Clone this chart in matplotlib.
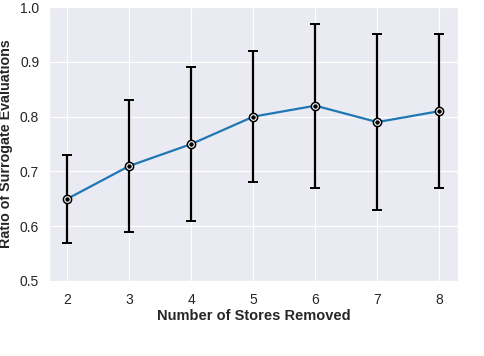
import numpy as np
import matplotlib
matplotlib.use("Agg")
import matplotlib.pyplot as plt
import seaborn as sns

# data
stores_removed = [2, 3, 4, 5, 6, 7, 8]
ratio_mean = [0.65, 0.71, 0.75, 0.80, 0.82, 0.79, 0.81]
ratio_low = [0.57, 0.59, 0.61, 0.68, 0.67, 0.63, 0.67]
ratio_high = [0.73, 0.83, 0.89, 0.92, 0.97, 0.95, 0.95]

sns.set_style("darkgrid")
plt.rcParams['font.family'] = ['Liberation Sans', 'DejaVu Sans']

mean = np.array(ratio_mean)
yerr = np.vstack([mean - np.array(ratio_low), np.array(ratio_high) - mean])

fig = plt.figure(figsize=(4.84, 3.56), dpi=100)
ax = fig.add_axes([0.101, 0.211, 0.845, 0.769])

ax.plot(stores_removed, ratio_mean, color='#1f77b4', lw=1.6, zorder=2)
ax.errorbar(stores_removed, ratio_mean, yerr=yerr, fmt='o', color='black',
            ms=6.0, elinewidth=1.6, capsize=3.4, capthick=1.4, zorder=3)
ax.plot(stores_removed, ratio_mean, 'o', ms=4.0, mfc='black', mec='white',
        mew=0.8, zorder=4)

ax.set_ylim(0.5, 1.0)
ax.set_xlim(1.7, 8.3)
ax.set_xticks(stores_removed)
ax.set_yticks([0.5, 0.6, 0.7, 0.8, 0.9, 1.0])
ax.set_yticklabels(['0.5', '0.6', '0.7', '0.8', '0.9', '1.0'])
ax.tick_params(labelsize=10, colors='#262626', length=0)
ax.tick_params(axis='y', pad=7)
ax.tick_params(axis='x', pad=8.5)

ax.set_xlabel("Number of Stores Removed", fontsize=10.5, fontweight='bold',
              color='#262626', labelpad=2)
ax.set_ylabel("Ratio of Surrogate Evaluations", fontsize=10.3,
              fontweight='bold', color='#262626', labelpad=5)

fig.savefig("out.png", dpi=100)
